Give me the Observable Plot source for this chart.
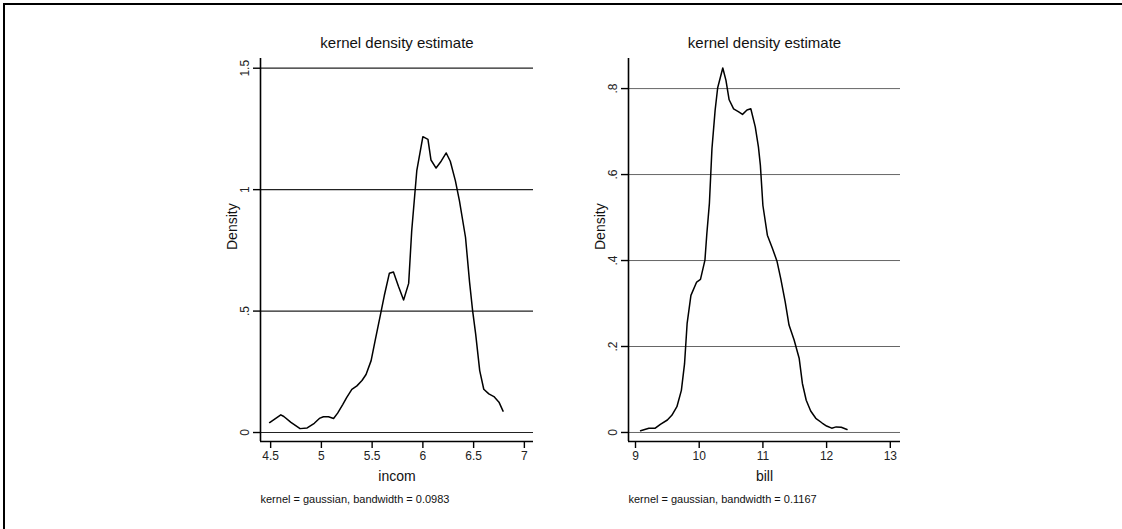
<!DOCTYPE html>
<html>
<head>
<meta charset="utf-8">
<script src="https://cdn.jsdelivr.net/npm/d3@7"></script>
<script src="https://cdn.jsdelivr.net/npm/@observablehq/plot@0.6"></script>
<style>
  html, body { margin: 0; padding: 0; background: #fff; }
  #page { position: relative; width: 1122px; height: 529px; overflow: hidden; background: #fff; }
  #border { position: absolute; left: 3px; top: 3px; width: 1300px; height: 700px;
            border-top: 2px solid #000; border-left: 2px solid #000; }
  .panel { position: absolute; top: 0; }
</style>
</head>
<body>
<div id="page">
  <div id="border"></div>
  <div id="left" class="panel" style="left:200px"></div>
  <div id="right" class="panel" style="left:560px"></div>
</div>
<script>
// ---- data: incom ----
const incomX = [4.49,4.60,4.63,4.70,4.79,4.86,4.93,4.98,5.02,5.07,5.12,5.16,5.21,5.25,5.30,5.35,5.40,5.44,5.49,5.53,5.58,5.62,5.67,5.71,5.76,5.81,5.86,5.89,5.94,6.00,6.05,6.08,6.13,6.18,6.23,6.27,6.32,6.36,6.42,6.46,6.49,6.52,6.56,6.60,6.65,6.70,6.75,6.79];
const incomY = [0.041,0.073,0.066,0.042,0.016,0.019,0.038,0.058,0.065,0.065,0.058,0.080,0.115,0.145,0.178,0.192,0.214,0.239,0.296,0.379,0.481,0.564,0.656,0.661,0.601,0.546,0.614,0.831,1.078,1.218,1.207,1.122,1.089,1.117,1.151,1.117,1.037,0.955,0.804,0.619,0.502,0.406,0.255,0.178,0.159,0.148,0.125,0.088];
const incomXTicks = [4.5, 5, 5.5, 6, 6.5, 7];
const incomXLabels = ["4.5", "5", "5.5", "6", "6.5", "7"];
const incomYTicks = [0, 0.5, 1, 1.5];
const incomYLabels = ["0", ".5", "1", "1.5"];

// ---- data: bill ----
const billX = [9.08,9.21,9.31,9.39,9.50,9.57,9.65,9.72,9.77,9.81,9.87,9.96,10.02,10.09,10.12,10.16,10.20,10.25,10.29,10.37,10.42,10.47,10.54,10.62,10.68,10.75,10.81,10.88,10.93,10.96,11.00,11.07,11.15,11.22,11.28,11.35,11.41,11.49,11.57,11.62,11.68,11.75,11.83,11.93,12.00,12.08,12.15,12.23,12.32];
const billY = [0.004,0.010,0.010,0.019,0.029,0.040,0.060,0.098,0.160,0.253,0.319,0.350,0.356,0.401,0.463,0.533,0.660,0.750,0.802,0.848,0.819,0.774,0.753,0.746,0.740,0.750,0.753,0.711,0.664,0.622,0.528,0.459,0.428,0.399,0.358,0.304,0.250,0.215,0.172,0.114,0.075,0.050,0.033,0.022,0.015,0.010,0.013,0.012,0.007];
const billXTicks = [9, 10, 11, 12, 13];
const billXLabels = ["9", "10", "11", "12", "13"];
const billYTicks = [0, 0.2, 0.4, 0.6, 0.8];
const billYLabels = ["0", ".2", ".4", ".6", ".8"];

const font = "'Liberation Sans', Arial, Helvetica, sans-serif";

function panel({xs, ys, xDomain, yDomain, xTicks, xLabels, yTicks, yLabels, xLabel, note, marginLeft, marginRight, gridColor, gridWidth}) {
  const data = xs.map((x, i) => ({x, y: ys[i]}));
  const yt = yTicks.map((v, i) => ({v, s: yLabels[i]}));
  const xfmt = (d) => xLabels[xTicks.indexOf(d)];
  return Plot.plot({
    width: 360, height: 529,
    marginLeft, marginRight, marginTop: 58, marginBottom: 88,
    style: {fontFamily: font, fontSize: "12px", background: "transparent", overflow: "visible"},
    x: {domain: xDomain, axis: null},
    y: {domain: yDomain, axis: null},
    marks: [
      Plot.ruleY(yTicks, {stroke: gridColor, strokeWidth: gridWidth}),
      Plot.line(data, {x: "x", y: "y", stroke: "#000", strokeWidth: 1.5, strokeLinejoin: "round"}),
      Plot.ruleX([xDomain[0]], {stroke: "#000", strokeWidth: 1.6}),
      Plot.ruleY([yDomain[0]], {stroke: "#000", strokeWidth: 1.6}),
      Plot.axisX({ticks: xTicks, tickFormat: xfmt, tickSize: 7, tickPadding: 3, fontSize: 12, label: null, stroke: "#000", strokeWidth: 1.4, fill: "#222"}),
      Plot.axisY({ticks: yTicks, tickSize: 7, tickFormat: () => "", label: null, stroke: "#000", strokeWidth: 1.4}),
      Plot.text(yt, {x: () => xDomain[0], y: "v", text: "s", rotate: -90, dx: -15, fontSize: 12, fill: "#222"}),
      Plot.text(["kernel density estimate"], {frameAnchor: "top", dy: -21, fontSize: 15, fill: "#111"}),
      Plot.text(["Density"], {frameAnchor: "left", dx: -28, rotate: -90, fontSize: 14, fill: "#111"}),
      Plot.text([xLabel], {frameAnchor: "bottom", dy: 39, fontSize: 14, fill: "#111"}),
      Plot.text([note], {frameAnchor: "bottom-left", dy: 61, textAnchor: "start", fontSize: 11, fill: "#111"})
    ]
  });
}

document.getElementById("left").append(panel({
  xs: incomX, ys: incomY, xDomain: [4.40, 7.09], yDomain: [-0.037, 1.54],
  xTicks: incomXTicks, xLabels: incomXLabels, yTicks: incomYTicks, yLabels: incomYLabels,
  xLabel: "incom", note: "kernel = gaussian, bandwidth = 0.0983",
  marginLeft: 60, marginRight: 27, gridColor: "#222", gridWidth: 1.2
}));
document.getElementById("right").append(panel({
  xs: billX, ys: billY, xDomain: [8.89, 13.16], yDomain: [-0.021, 0.87],
  xTicks: billXTicks, xLabels: billXLabels, yTicks: billYTicks, yLabels: billYLabels,
  xLabel: "bill", note: "kernel = gaussian, bandwidth = 0.1167",
  marginLeft: 68, marginRight: 20, gridColor: "#666", gridWidth: 1
}));
</script>
</body>
</html>
